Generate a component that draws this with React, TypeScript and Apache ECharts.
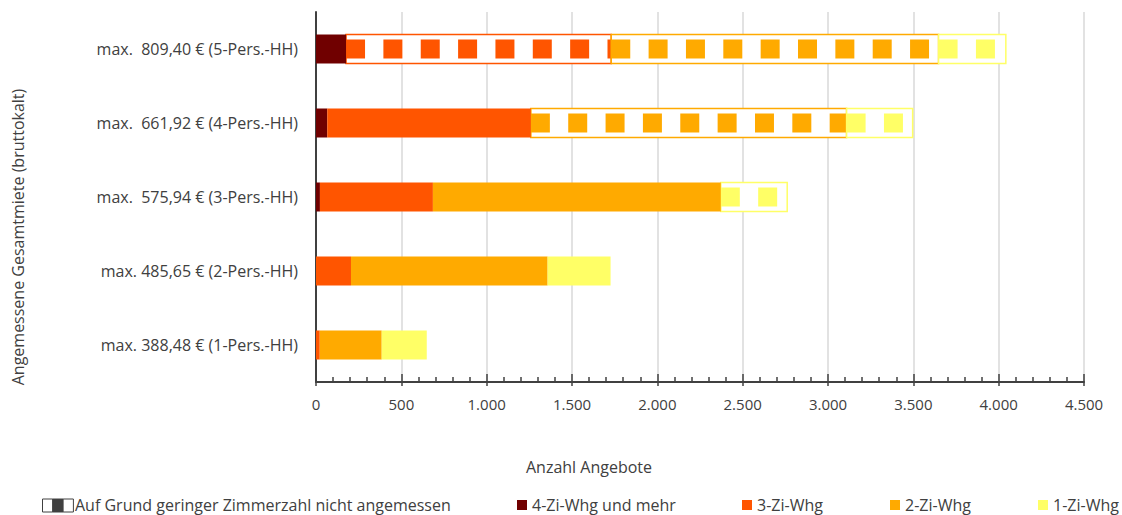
import React, { useEffect, useRef } from 'react';
import * as echarts from 'echarts';

const categories = [
  'max. 388,48 € (1-Pers.-HH)',
  'max. 485,65 € (2-Pers.-HH)',
  'max.  575,94 € (3-Pers.-HH)',
  'max.  661,92 € (4-Pers.-HH)',
  'max.  809,40 € (5-Pers.-HH)',
];
const roomTypes = ['4-Zi-Whg und mehr', '3-Zi-Whg', '2-Zi-Whg', '1-Zi-Whg'];
const roomCounts = [4, 3, 2, 1];
const zi4 = [0, 0, 23, 66, 176];
const zi3 = [22, 205, 662, 1193, 1554];
const zi2 = [363, 1152, 1687, 1850, 1918];
const zi1 = [264, 369, 389, 387, 394];
// smallest appropriate room count per household size
const minRooms = [1, 1, 2, 3, 4];
const notAppropriateName = 'Auf Grund geringer Zimmerzahl nicht angemessen';
const xAxisName = 'Anzahl Angebote';
const yAxisName = 'Angemessene Gesamtmiete (bruttokalt)';
const xMin = 0;
const xMax = 4500;
const xInterval = 500;

const colors = ['#700000', '#FF5500', '#FFAA00', '#FFFF66'];
const TEXT = '#404040';
const FONT = 'Open Sans';
const BAR_H = 29;

export default function App() {
  const ref = useRef<HTMLDivElement>(null);
  useEffect(() => {
    document.body.style.margin = '0';
    const chart = echarts.init(ref.current!, null, { renderer: 'svg' });
    const valuesByType = [zi4, zi3, zi2, zi1];

    const barSeries = roomTypes.map((name, t) => ({
      name,
      type: 'bar',
      stack: 'total',
      barWidth: BAR_H,
      xAxisIndex: 0,
      itemStyle: { color: colors[t] },
      data: valuesByType[t].map((v, i) =>
        roomCounts[t] < minRooms[i]
          ? { value: v, itemStyle: { color: 'rgba(0,0,0,0)' } }
          : v
      ),
    }));

    const patternData: number[][] = [];
    categories.forEach((_, i) => {
      let cum = 0;
      valuesByType.forEach((arr, t) => {
        const v = arr[i];
        if (roomCounts[t] < minRooms[i] && v > 0) {
          patternData.push([i, cum, cum + v, t]);
        }
        cum += v;
      });
    });

    const customSeries = {
      name: notAppropriateName,
      type: 'custom',
      xAxisIndex: 0,
      encode: { x: [1, 2], y: 0 },
      data: patternData,
      renderItem: (params: any, api: any) => {
        const cat = api.value(0);
        const s = api.value(1);
        const e = api.value(2);
        const t = api.value(3);
        const p0 = api.coord([s, cat]);
        const p1 = api.coord([e, cat]);
        const color = colors[t];
        const children: any[] = [
          {
            type: 'rect',
            shape: { x: p0[0], y: p0[1] - BAR_H / 2, width: p1[0] - p0[0], height: BAR_H },
            style: { fill: '#ffffff', stroke: color, lineWidth: 1.5 },
          },
        ];
        const period = 37.35;
        const size = 19;
        for (let x = p0[0]; x < p1[0] - 0.5; x += period) {
          const w = Math.min(size, p1[0] - x);
          children.push({
            type: 'rect',
            shape: { x, y: p0[1] - size / 2, width: w, height: size },
            style: { fill: color },
          });
        }
        return { type: 'group', children };
      },
    };

    const legendText = { color: TEXT, fontFamily: FONT, fontSize: 16, lineHeight: 16 };
    const legendLefts = [517, 742, 890, 1038];

    const option: any = {
      animation: false,
      grid: { left: 316, right: 38, top: 12, bottom: 133, containLabel: false },
      xAxis: [
        {
          type: 'value',
          min: xMin,
          max: xMax,
          interval: xInterval,
          axisLine: { show: true, lineStyle: { color: TEXT, width: 2 } },
          axisTick: { show: true, inside: true, length: 8, lineStyle: { color: TEXT, width: 1.5 } },
          minorTick: { show: true, splitNumber: 5, length: 5, lineStyle: { color: TEXT, width: 1.5 } },
          splitLine: { show: true, lineStyle: { color: '#d9d9d9', width: 1.5 } },
          axisLabel: {
            color: TEXT,
            fontFamily: FONT,
            fontSize: 15,
            margin: 14,
            formatter: (v: number) => String(v).replace(/\B(?=(\d{3})+(?!\d))/g, '.'),
          },
        },
        {
          type: 'value',
          min: xMin,
          max: xMax,
          interval: xInterval,
          position: 'bottom',
          offset: 0,
          axisLine: { show: false },
          axisTick: { show: true, inside: false, length: 4, lineStyle: { color: TEXT, width: 1.5 } },
          axisLabel: { show: false },
          splitLine: { show: false },
        },
      ],
      yAxis: {
        type: 'category',
        data: categories,
        axisLine: { show: true, lineStyle: { color: TEXT, width: 2 } },
        axisTick: { show: false },
        splitLine: { show: false },
        axisLabel: { color: TEXT, fontFamily: FONT, fontSize: 16, margin: 18 },
      },
      legend: [
        {
          data: [notAppropriateName],
          left: 39,
          top: 497,
          padding: 0,
          icon: 'rect',
          itemWidth: 31,
          itemHeight: 12,
          itemStyle: { color: 'rgba(0,0,0,0)', borderWidth: 0 },
          textStyle: legendText,
          selectedMode: false,
        },
        ...roomTypes.map((name, t) => ({
          data: [name],
          left: legendLefts[t],
          top: 497,
          padding: 0,
          icon: 'rect',
          itemWidth: 10,
          itemHeight: 10,
          textStyle: legendText,
          selectedMode: false,
        })),
      ],
      graphic: [
        {
          type: 'group',
          left: 42,
          top: 498.5,
          children: [
            { type: 'rect', shape: { x: 0, y: 0, width: 10.3, height: 13 }, style: { fill: '#fff', stroke: TEXT, lineWidth: 1 } },
            { type: 'rect', shape: { x: 10.3, y: 0, width: 10.3, height: 13 }, style: { fill: TEXT, stroke: TEXT, lineWidth: 1 } },
            { type: 'rect', shape: { x: 20.6, y: 0, width: 10.3, height: 13 }, style: { fill: '#fff', stroke: TEXT, lineWidth: 1 } },
          ],
        },
        {
          type: 'text',
          x: 18,
          y: 237,
          rotation: Math.PI / 2,
          style: { text: yAxisName, fill: TEXT, font: `16px "${FONT}"`, align: 'center', verticalAlign: 'middle' },
        },
        {
          type: 'text',
          x: 589,
          y: 467,
          style: { text: xAxisName, fill: TEXT, font: `16px "${FONT}"`, align: 'center', verticalAlign: 'middle' },
        },
      ],
      series: [...barSeries, customSeries],
    };
    chart.setOption(option);
    return () => chart.dispose();
  }, []);
  return <div ref={ref} style={{ width: 1122, height: 515 }} />;
}
